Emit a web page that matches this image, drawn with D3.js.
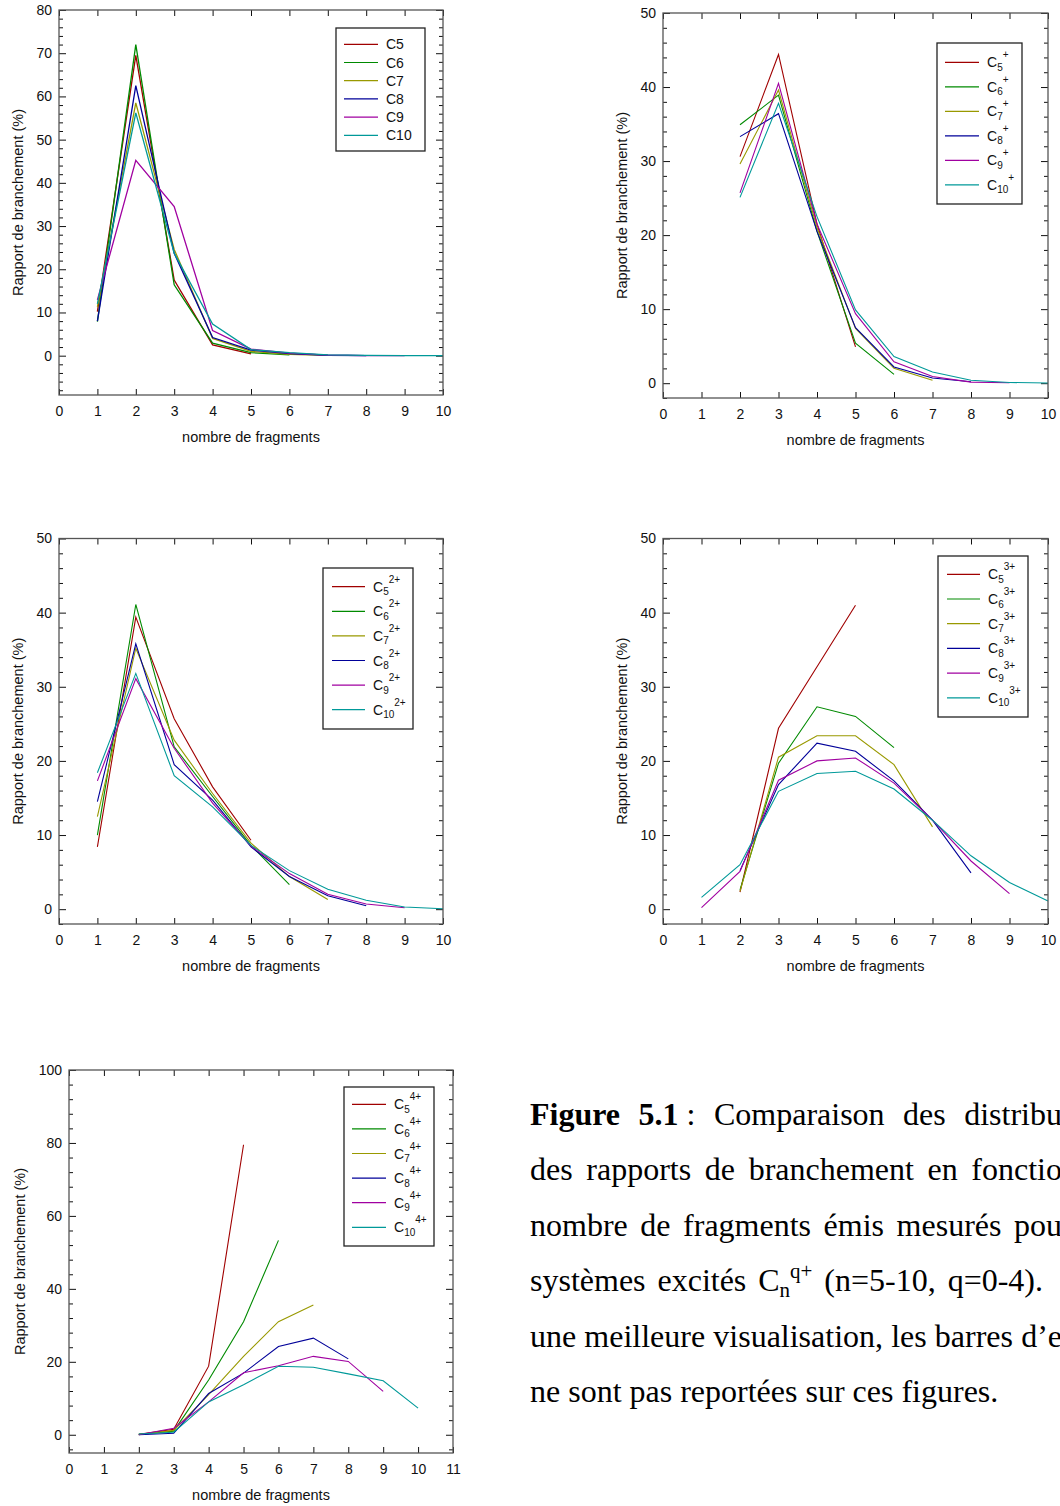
<!DOCTYPE html>
<html>
<head>
<meta charset="utf-8">
<script src="https://cdn.jsdelivr.net/npm/d3@7"></script>
<style>
  body { margin: 0; background: #fff; }
  svg { display: block; }
</style>
</head>
<body>
<svg id="fig" width="1060" height="1506"></svg>
<script>
// series shared by every panel
const names = ["C5", "C6", "C7", "C8", "C9", "C10"];
const colors = ["#a00000", "#008a00", "#999900", "#000099", "#a000a0", "#009999"];

// q = 0
const q0Start = [1, 1, 1, 1, 1, 1];
const q0Values = [
  [10.2, 69.5, 17.5, 2.5, 0.4],
  [7.9, 72, 16.4, 2.9, 0.7, 0.2],
  [11.3, 58.5, 24.6, 4.0, 1.0, 0.3, 0.05],
  [8.0, 62.5, 23.7, 4.2, 1.3, 0.5, 0.1, 0.02],
  [12.9, 45.2, 34.5, 5.8, 1.5, 0.6, 0.15, 0.03, 0.0],
  [12.0, 56.2, 23.7, 7.3, 1.4, 0.7, 0.2, 0.05, 0.01, 0.0]
];

// q = 1
const q1Start = [2, 2, 2, 2, 2, 2];
const q1Values = [
  [30.6, 44.4, 21.5, 4.9],
  [34.9, 38.9, 20.5, 5.4, 1.2],
  [29.6, 39.6, 21.0, 7.4, 2.0, 0.4],
  [33.3, 36.4, 20.5, 7.5, 2.2, 0.7, 0.2],
  [25.7, 40.5, 21.5, 9.4, 2.9, 0.9, 0.15, 0.05],
  [25.1, 37.8, 22.5, 9.9, 3.6, 1.5, 0.4, 0.1, 0.02]
];

// q = 2
const q2Start = [1, 1, 1, 1, 1, 1];
const q2Values = [
  [8.4, 39.4, 25.7, 16.5, 9.3],
  [10.0, 41.1, 21.9, 15.2, 8.6, 3.3],
  [12.5, 35.2, 22.8, 15.6, 8.9, 4.4, 1.3],
  [14.5, 35.8, 19.5, 14.7, 8.4, 4.4, 1.8, 0.45],
  [17.3, 31.1, 21.7, 14.3, 8.5, 4.8, 2.0, 0.7, 0.2],
  [18.4, 31.8, 18.0, 13.8, 8.6, 5.2, 2.7, 1.2, 0.3, 0.05]
];

// q = 3
const q3Start = [2, 2, 2, 2, 1, 1];
const q3Values = [
  [2.3, 24.4, 32.7, 41.0],
  [2.6, 19.7, 27.3, 26.0, 21.8],
  [2.4, 20.5, 23.4, 23.4, 19.5, 11.1],
  [5.2, 16.8, 22.4, 21.3, 17.3, 12.0, 4.9],
  [0.2, 5.1, 17.4, 20.0, 20.4, 17.0, 12.0, 6.5, 2.1],
  [1.6, 6.0, 15.9, 18.3, 18.6, 16.2, 12.0, 7.2, 3.6, 1.1]
];

// q = 4
const q4Start = [2, 2, 2, 2, 2, 2];
const q4Values = [
  [0.1, 1.5, 18.8, 79.5],
  [0.1, 1.0, 15.0, 31.0, 53.3],
  [0.05, 1.2, 11.0, 21.5, 31.0, 35.6],
  [0.0, 0.4, 11.3, 16.9, 24.2, 26.5, 20.8],
  [0.0, 1.8, 9.0, 17.0, 18.9, 21.5, 20.1, 11.9],
  [0.2, 0.7, 9.0, 13.7, 18.8, 18.5, 16.7, 14.8, 7.3]
];

const xTitle = "nombre de fragments";
const yTitle = "Rapport de branchement (%)";
const charges = ["", "+", "2+", "3+", "4+"];

const caption = [
  [[["Figure", "b"]], [["5.1", "b"], ["\u00a0:", ""]], [["Comparaison", ""]], [["des", ""]], [["distribu", ""]]],
  [[["des", ""]], [["rapports", ""]], [["de", ""]], [["branchement", ""]], [["en", ""]], [["fonctio", ""]]],
  [[["nombre", ""]], [["de", ""]], [["fragments", ""]], [["émis", ""]], [["mesurés", ""]], [["pou", ""]]],
  [[["systèmes", ""]], [["excités", ""]], [["C", ""], ["n", "sub"], ["q+", "sup"]], [["(n=5-10,", ""]], [["q=0-4).", ""]]],
  [[["une", ""]], [["meilleure", ""]], [["visualisation,", ""]], [["les", ""]], [["barres", ""]], [["d\u2019e", ""]]],
  [[["ne", ""]], [["sont", ""]], [["pas", ""]], [["reportées", ""]], [["sur", ""]], [["ces", ""]], [["figures.", ""]]]
];
const captionEnds = [1062, 1062, 1062, 1043, 1062, null];

// layout
const panels = [
  { start: q0Start, values: q0Values, left: 59, right: 443, top: 10, bottom: 395, xMax: 10, yMin: -9.1, yMax: 80, major: 10, minor: 2, titleX: 18,
    lg: { x: 336, y: 28, w: 89, h: 123, first: 44.3, step: 18.2, l0: 344, l1: 378, tx: 386 } },
  { start: q1Start, values: q1Values, left: 663, right: 1048, top: 13, bottom: 398, xMax: 10, yMin: -2, yMax: 50, major: 10, minor: 2, titleX: 622,
    lg: { x: 937, y: 43, w: 85, h: 161, first: 62.3, step: 24.5, l0: 945, l1: 979, tx: 987 } },
  { start: q2Start, values: q2Values, left: 59, right: 443, top: 538.5, bottom: 924, xMax: 10, yMin: -2, yMax: 50, major: 10, minor: 2, titleX: 18,
    lg: { x: 323, y: 568, w: 90, h: 161, first: 586.7, step: 24.6, l0: 332, l1: 365, tx: 373 } },
  { start: q3Start, values: q3Values, left: 663, right: 1048, top: 538.5, bottom: 924, xMax: 10, yMin: -2, yMax: 50, major: 10, minor: 2, titleX: 622,
    lg: { x: 938, y: 556, w: 90, h: 161, first: 574.3, step: 24.7, l0: 947, l1: 980, tx: 988 } },
  { start: q4Start, values: q4Values, left: 69, right: 453, top: 1070, bottom: 1453, xMax: 11, yMin: -5, yMax: 100, major: 20, minor: 4, titleX: 20,
    lg: { x: 344, y: 1087, w: 90, h: 159, first: 1104.3, step: 24.6, l0: 352, l1: 386, tx: 394 } }
];

const svg = d3.select("#fig");
const sans = "'Liberation Sans', Arial, Helvetica, sans-serif";
const serif = "'Liberation Serif', 'Times New Roman', Times, serif";

panels.forEach((p, pi) => {
  const g = svg.append("g").attr("font-family", sans);

  const x = d3.scaleLinear().domain([0, p.xMax]).range([p.left, p.right]);
  const y = d3.scaleLinear().domain([p.yMin, p.yMax]).range([p.bottom, p.top]);

  const majors = d3.range(0, p.yMax + 0.001, p.major);
  const minors = d3.range(Math.ceil(p.yMin / p.minor) * p.minor, p.yMax, p.minor)
    .filter((v) => Math.abs(v / p.major - Math.round(v / p.major)) > 1e-6);
  const xt = d3.range(0, p.xMax + 1);

  const styleAxis = (sel) => {
    sel.select(".domain").remove();
    sel.selectAll(".tick line").attr("stroke", "#111");
    sel.selectAll(".tick text").attr("font-size", 14).attr("font-family", sans).attr("fill", "#111");
  };

  g.append("g").attr("transform", `translate(${p.left},0)`)
    .call(d3.axisLeft(y).tickValues(majors).tickSize(-7).tickPadding(7).tickFormat(d3.format("d")))
    .call(styleAxis);
  g.append("g").attr("transform", `translate(${p.left},0)`)
    .call(d3.axisLeft(y).tickValues(minors).tickSize(-4).tickFormat(""))
    .call(styleAxis);
  g.append("g").attr("transform", `translate(${p.right},0)`)
    .call(d3.axisRight(y).tickValues(majors).tickSize(-7).tickFormat(""))
    .call(styleAxis);
  g.append("g").attr("transform", `translate(${p.right},0)`)
    .call(d3.axisRight(y).tickValues(minors).tickSize(-4).tickFormat(""))
    .call(styleAxis);
  g.append("g").attr("transform", `translate(0,${p.bottom})`)
    .call(d3.axisBottom(x).tickValues(xt).tickSize(-6).tickPadding(11).tickFormat(d3.format("d")))
    .call(styleAxis);
  g.append("g").attr("transform", `translate(0,${p.top})`)
    .call(d3.axisTop(x).tickValues(xt).tickSize(-6).tickFormat(""))
    .call(styleAxis);

  // curves
  p.values.forEach((vals, si) => {
    const s = p.start[si];
    const line = d3.line().x((d, i) => x(s + i)).y((d) => y(d));
    g.append("path")
      .attr("d", line(vals))
      .attr("fill", "none")
      .attr("stroke", colors[si])
      .attr("stroke-width", pi === 0 ? 1.3 : 1.1)
      .attr("stroke-linejoin", "miter");
  });

  // frame
  g.append("rect")
    .attr("x", p.left).attr("y", p.top)
    .attr("width", p.right - p.left).attr("height", p.bottom - p.top)
    .attr("fill", "none").attr("stroke", "#555").attr("stroke-width", 1.3);

  // titles
  g.append("text")
    .attr("x", (p.left + p.right) / 2).attr("y", p.bottom + 47)
    .attr("text-anchor", "middle").attr("font-size", 14.5).attr("fill", "#111")
    .text(xTitle);
  g.append("text")
    .attr("transform", `translate(${p.titleX + 5},${(p.top + p.bottom) / 2}) rotate(-90)`)
    .attr("text-anchor", "middle").attr("font-size", 14.5).attr("fill", "#111")
    .text(yTitle);

  // legend
  const lg = p.lg;
  g.append("rect")
    .attr("x", lg.x).attr("y", lg.y).attr("width", lg.w).attr("height", lg.h)
    .attr("fill", "#fff").attr("stroke", "#222").attr("stroke-width", 1.3);
  names.forEach((name, si) => {
    const ly = lg.first + si * lg.step;
    g.append("line")
      .attr("x1", lg.l0).attr("x2", lg.l1).attr("y1", ly).attr("y2", ly)
      .attr("stroke", colors[si]).attr("stroke-width", 1.2);
    const t = g.append("text").attr("x", lg.tx).attr("y", ly + 5)
      .attr("font-size", 14).attr("fill", "#111");
    if (pi === 0) {
      t.text(name);
    } else {
      t.append("tspan").text("C");
      t.append("tspan").attr("font-size", 10).attr("dy", 3.5).text(name.slice(1));
      t.append("tspan").attr("font-size", 10).attr("dy", -12.5).text(charges[pi]);
    }
  });
});

// caption, justified line by line
const capLeft = 530;
const capSize = 32;
const capTop = 1125;
const capStep = 55.4;

caption.forEach((words, li) => {
  const base = capTop + li * capStep;
  const nodes = words.map((segs) => {
    const t = svg.append("text").attr("y", base)
      .attr("font-family", serif).attr("font-size", capSize).attr("fill", "#000");
    let shift = 0;
    segs.forEach(([str, st]) => {
      const ts = t.append("tspan").text(str);
      if (st === "b") ts.attr("font-weight", "bold");
      if (st === "sub") { ts.attr("font-size", 21).attr("dy", 6 - shift); shift = 6; }
      if (st === "sup") { ts.attr("font-size", 21).attr("dy", -13 - shift); shift = -13; }
    });
    return t;
  });
  const widths = nodes.map((n) => n.node().getComputedTextLength());
  const total = d3.sum(widths);
  const end = captionEnds[li];
  const gap = end ? (end - capLeft - total) / (nodes.length - 1) : capSize * 0.25;
  let cx = capLeft;
  nodes.forEach((n, i) => {
    n.attr("x", cx);
    cx += widths[i] + gap;
  });
});
</script>
</body>
</html>
